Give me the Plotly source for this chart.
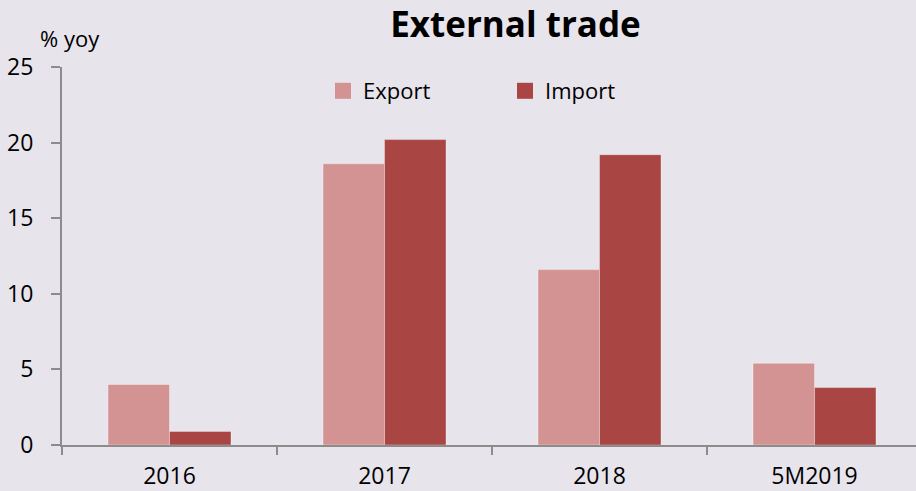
import plotly.graph_objects as go

categories = ["2016", "2017", "2018", "5M2019"]
export_vals = [4.0, 18.6, 11.6, 5.4]
import_vals = [0.9, 20.2, 19.2, 3.8]
y_ticks = [0, 5, 10, 15, 20, 25]

BG = "#E7E4EC"
EXP_C = "#D39393"
IMP_C = "#A94644"
AX_C = "#8C8C8C"
FONT = "Open Sans"

fig = go.Figure()
fig.add_trace(go.Bar(x=categories, y=export_vals, name="Export", marker=dict(color=EXP_C, line=dict(color="rgba(255,255,255,0.35)", width=1)), showlegend=False))
fig.add_trace(go.Bar(x=categories, y=import_vals, name="Import", marker=dict(color=IMP_C, line=dict(color="rgba(255,255,255,0.35)", width=1)), showlegend=False))
# legend entries
fig.add_trace(go.Scatter(x=[None], y=[None], mode="markers", name="Export", marker=dict(symbol="square", size=16, color=EXP_C, line=dict(width=0))))
fig.add_trace(go.Scatter(x=[None], y=[None], mode="markers", name="Import", marker=dict(symbol="square", size=16, color=IMP_C, line=dict(width=0))))

fig.update_layout(
    width=916, height=491,
    margin=dict(l=62, r=0, t=67, b=46),
    paper_bgcolor=BG, plot_bgcolor=BG,
    font=dict(family=FONT, size=23, color="#000000"),
    barmode="group", bargap=0.428, bargroupgap=0,
    title=dict(text="External trade", x=515.5/916, xref="container", xanchor="center",
               y=1 - 25/491, yref="container", yanchor="middle",
               font=dict(family=FONT, size=35, weight=700, color="#000000")),
    legend=dict(orientation="h", x=(323-62)/854, xanchor="left", y=(445-91)/378, yanchor="middle",
                bgcolor="rgba(0,0,0,0)", font=dict(size=22), entrywidth=137, entrywidthmode="pixels",
                itemclick=False),
    showlegend=True,
    xaxis=dict(type="category", range=[-0.5, 3.472], showgrid=False, showline=True, linecolor=AX_C, linewidth=2,
               ticks="outside", tickson="boundaries", ticklen=8, tickwidth=2, tickcolor=AX_C,
               tickfont=dict(size=23), ticklabelstandoff=9, zeroline=False, automargin=False),
    yaxis=dict(range=[0, 25], tickvals=y_ticks, showgrid=False, showline=True, linecolor=AX_C, linewidth=2,
               ticks="outside", ticklen=9, tickwidth=2, tickcolor=AX_C, tickfont=dict(size=23),
               ticklabelstandoff=13, zeroline=False, automargin=False),
    annotations=[dict(text="% yoy", x=(70-62)/854, y=(445-38)/378, xref="paper", yref="paper",
                      xanchor="center", yanchor="middle", showarrow=False, font=dict(size=22))],
)

fig.write_html("out.html")
